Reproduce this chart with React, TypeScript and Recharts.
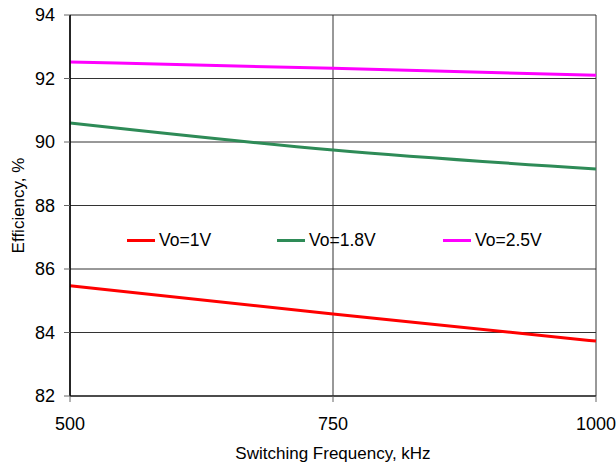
import { LineChart, Line, XAxis, YAxis, CartesianGrid } from "recharts";

// ─── Data ─────────────────────────────────────────
const frequencies = [500, 750, 1000];
const vo1V = [85.47, 84.58, 83.73];
const vo18V = [90.6, 89.75, 89.15];
const vo25V = [92.52, 92.32, 92.1];

const xTicks = [500, 750, 1000];
const yTicks = [82, 84, 86, 88, 90, 92, 94];

const series = [
  { key: "v1", name: "Vo=1V", color: "#ff0000" },
  { key: "v18", name: "Vo=1.8V", color: "#2e8b57" },
  { key: "v25", name: "Vo=2.5V", color: "#ff00ff" },
];

const data = frequencies.map((f, i) => ({
  f,
  v1: vo1V[i],
  v18: vo18V[i],
  v25: vo25V[i],
}));

const FONT = "Liberation Sans, Arial, sans-serif";

// ─── Legend inside the plot ───────────────────────
function InsideLegend() {
  const starts = [127, 277, 443];
  return (
    <div style={{ position: "absolute", left: 0, top: 229, width: 616, height: 24 }}>
      {series.map((s, i) => (
        <div
          key={s.key}
          style={{
            position: "absolute",
            left: starts[i],
            top: 0,
            display: "flex",
            alignItems: "center",
            fontFamily: FONT,
            fontSize: 17.5,
            lineHeight: "22px",
            color: "#000",
          }}
        >
          <span style={{ display: "inline-block", width: 28, height: 3, background: s.color, marginRight: 4 }} />
          {s.name}
        </div>
      ))}
    </div>
  );
}

export default function App() {
  return (
    <div style={{ position: "absolute", left: 0, top: 0, width: 616, height: 464, background: "#fff" }}>
      <LineChart width={616} height={464} data={data} margin={{ top: 15, right: 20, left: 0, bottom: 0 }}>
        <CartesianGrid stroke="#333" strokeWidth={1} />
        <XAxis
          dataKey="f"
          type="number"
          domain={[500, 1000]}
          ticks={xTicks}
          height={68}
          tickSize={6}
          tickMargin={15}
          tick={{ fontSize: 18, fill: "#000", fontFamily: FONT }}
          axisLine={{ stroke: "#333", strokeWidth: 1.5 }}
          tickLine={{ stroke: "#666" }}
          label={{ value: "Switching Frequency, kHz", position: "insideBottom", offset: 5, fontSize: 17, fill: "#000", fontFamily: FONT }}
        />
        <YAxis
          type="number"
          domain={[82, 94]}
          ticks={yTicks}
          width={70}
          tickSize={6}
          tickMargin={9}
          tick={{ fontSize: 18, fill: "#000", fontFamily: FONT }}
          axisLine={{ stroke: "#000", strokeWidth: 1.5 }}
          tickLine={{ stroke: "#666" }}
          label={{ value: "Efficiency, %", angle: -90, position: "insideLeft", offset: 18, style: { textAnchor: "middle" }, fontSize: 17, fill: "#000", fontFamily: FONT }}
        />
        {series.map((s) => (
          <Line
            key={s.key}
            dataKey={s.key}
            name={s.name}
            type="monotone"
            stroke={s.color}
            strokeWidth={3}
            dot={false}
            isAnimationActive={false}
          />
        ))}
      </LineChart>
      <InsideLegend />
    </div>
  );
}
